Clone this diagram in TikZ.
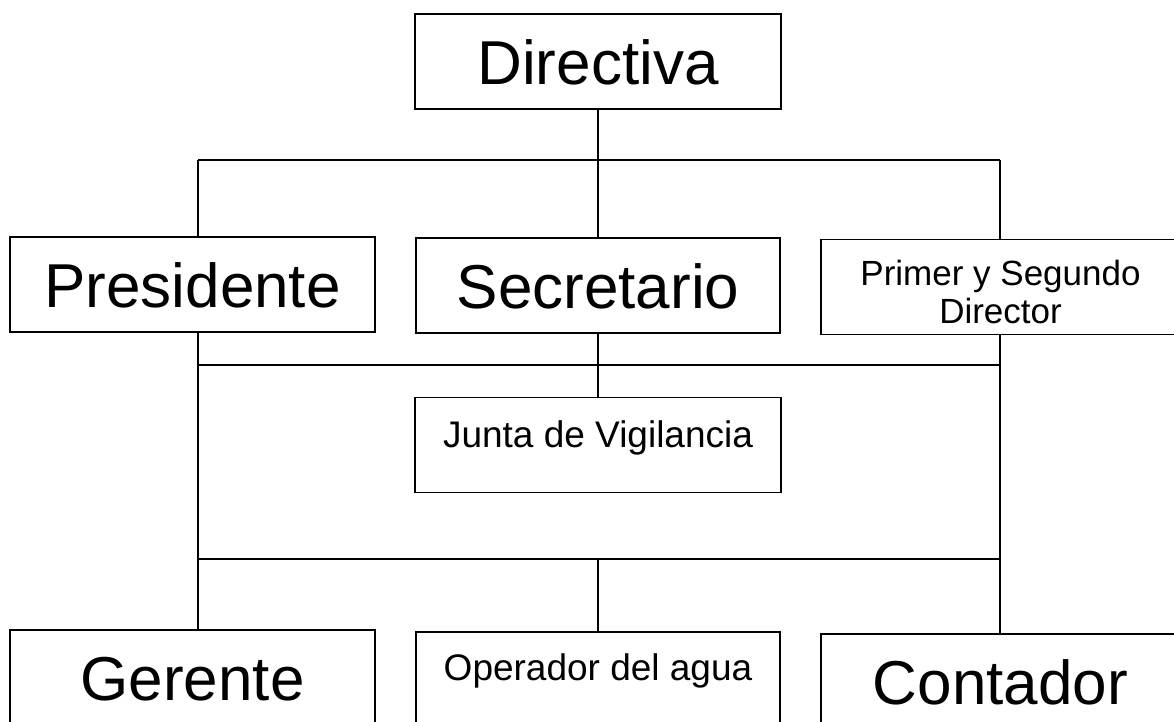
\documentclass[tikz,border=0pt]{standalone}
\usepackage{fontspec}
\setmainfont{Liberation Sans}
\begin{document}
\begin{tikzpicture}[x=1pt,y=-1pt,
  box/.style={draw, line width=1.8pt, inner sep=0pt, minimum height=95pt},
  big/.style={font=\fontsize{62}{70}\selectfont, text height=45pt, text depth=0pt},
  small/.style={font=\fontsize{37}{38}\selectfont},
  conn/.style={line width=1.8pt}]
\useasboundingbox (0,0) rectangle (1174,721);
\clip (0,0) rectangle (1174,721);
% boxes
\node[box, big, minimum width=366pt] (dir) at (598,61.5) {Directiva};
\node[box, big, minimum width=365pt] (pres) at (192.5,284.5) {Presidente};
\node[box, big, minimum width=364pt] (sec) at (598,285.5) {Secretario};
\node[box, small, font=\fontsize{35}{38}\selectfont, align=center, minimum width=359pt] (prim) at (1000.5,287) {\rule{0pt}{36pt}Primer y Segundo\\Director};
\node[box, small, text height=30pt, text depth=26pt, minimum width=366pt] (junta) at (598,445) {Junta de Vigilancia};
\node[box, big, minimum width=365pt] (ger) at (192.5,677.5) {Gerente};
\node[box, small, text height=28pt, text depth=27pt, minimum width=364pt] (oper) at (598,679.5) {Operador del agua};
\node[box, big, minimum width=359pt] (cont) at (1000.5,681.5) {Contador};
% junction coordinates
\coordinate (tL) at (198,160);
\coordinate (tR) at (1000,160);
\coordinate (mL) at (198,365);
\coordinate (mR) at (1000,365);
\coordinate (bL) at (198,559);
\coordinate (bR) at (1000,559);
% connectors
\draw[conn] (dir.south) -- (dir.south |- tL);
\draw[conn] (tL) -- (tR);
\draw[conn] (tL) -- (tL |- pres.north);
\draw[conn] (dir.south |- tL) -- (sec.north);
\draw[conn] (tR) -- (tR |- prim.north);
\draw[conn] (mL) -- (mR);
\draw[conn] (tL |- pres.south) -- (tL |- ger.north);
\draw[conn] (tR |- prim.south) -- (tR |- cont.north);
\draw[conn] (sec.south) -- (junta.north);
\draw[conn] (bL) -- (bR);
\draw[conn] (bL -| oper.north) -- (oper.north);
\end{tikzpicture}
\end{document}
